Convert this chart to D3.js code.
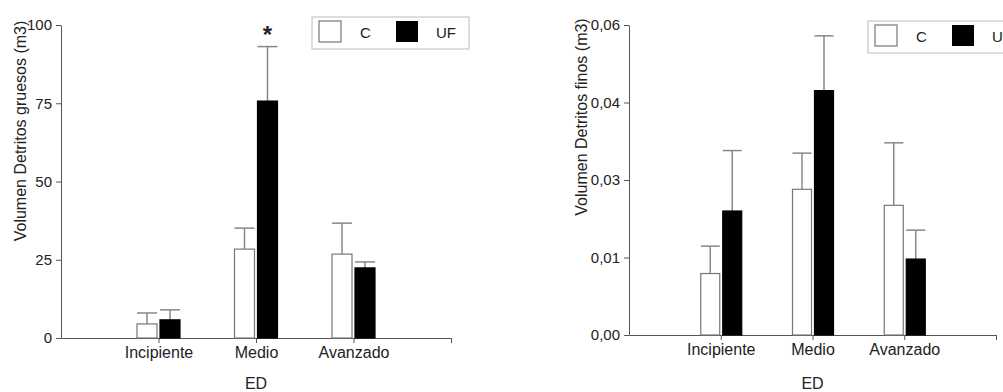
<!DOCTYPE html>
<html>
<head>
<meta charset="utf-8">
<script src="https://cdn.jsdelivr.net/npm/d3@7"></script>
<style>
  body { margin: 0; background: #fff; }
  text { font-family: "Liberation Sans", Arial, sans-serif; fill: #222; }
  .axis path, .axis line { stroke: #555; }
  .axis text { fill: #222; }
  .y-axis text { font-size: 15px; }
  .x-axis text { font-size: 16px; }
</style>
</head>
<body>
<div id="chart"></div>
<script>
var svgWidth = 1003;
var svgHeight = 392;

// categories and series
var categories = ["Incipiente", "Medio", "Avanzado"];
var seriesNames = ["C", "UF"];

// Volumen Detritos gruesos (m3): means and standard errors
var gruesosC = [4.5, 28.4, 26.8];
var gruesosCErr = [3.5, 6.7, 9.9];
var gruesosUF = [5.8, 75.7, 22.4];
var gruesosUFErr = [3.2, 17.4, 1.9];

// Volumen Detritos finos (m3): means and standard errors
var finosC = [0.0119, 0.0282, 0.0251];
var finosCErr = [0.0053, 0.0070, 0.0121];
var finosUF = [0.0240, 0.0473, 0.0147];
var finosUFErr = [0.0117, 0.0106, 0.0056];

// y tick values and labels
var gruesosTicks = [0, 25, 50, 75, 100];
var gruesosTickLabels = ["0", "25", "50", "75", "100"];
var finosTicks = [0, 0.015, 0.03, 0.045, 0.06];
var finosTickLabels = ["0,00", "0,01", "0,03", "0,04", "0,06"];

var svg = d3.select("#chart")
  .append("svg")
  .attr("width", svgWidth)
  .attr("height", svgHeight);

function drawPanel(opts) {
  var x = d3.scaleLinear()
    .domain([0, categories.length + 1])
    .range([opts.left, opts.right]);

  var y = d3.scaleLinear()
    .domain([0, d3.max(opts.ticks)])
    .range([opts.bottom, opts.top]);

  var g = svg.append("g");

  // axes
  var yAxis = d3.axisLeft(y)
    .tickValues(opts.ticks)
    .tickFormat((d, i) => opts.tickLabels[i])
    .tickSize(5)
    .tickSizeOuter(0)
    .tickPadding(4);

  g.append("g")
    .attr("class", "axis y-axis")
    .attr("transform", `translate(${opts.left}, 0)`)
    .call(yAxis);

  var xAxis = d3.axisBottom(x)
    .tickValues(d3.range(1, categories.length + 2))
    .tickFormat(d => categories[d - 1] || "")
    .tickSize(5)
    .tickSizeOuter(0)
    .tickPadding(4);

  g.append("g")
    .attr("class", "axis x-axis")
    .attr("transform", `translate(0, ${opts.bottom})`)
    .call(xAxis);

  // bars: one group per series
  var series = [
    { name: "C", values: opts.c, err: opts.cErr, fill: "#fff", offset: opts.cOffset },
    { name: "UF", values: opts.uf, err: opts.ufErr, fill: "#000", offset: opts.ufOffset }
  ];

  series.forEach(function(s) {
    var rows = s.values.map((v, i) => ({ i: i, v: v, e: s.err[i] }));
    var sg = g.append("g");

    // error bars (upper only)
    sg.selectAll(".err")
      .data(rows)
      .enter()
      .append("line")
      .attr("x1", d => x(d.i + 1) + s.offset + opts.barWidth / 2)
      .attr("x2", d => x(d.i + 1) + s.offset + opts.barWidth / 2)
      .attr("y1", d => y(d.v))
      .attr("y2", d => y(d.v + d.e))
      .attr("stroke", "#888")
      .attr("stroke-width", 1.5);

    sg.selectAll(".cap")
      .data(rows)
      .enter()
      .append("line")
      .attr("x1", d => x(d.i + 1) + s.offset)
      .attr("x2", d => x(d.i + 1) + s.offset + opts.barWidth)
      .attr("y1", d => y(d.v + d.e))
      .attr("y2", d => y(d.v + d.e))
      .attr("stroke", "#888")
      .attr("stroke-width", 1.5);

    sg.selectAll("rect")
      .data(rows)
      .enter()
      .append("rect")
      .attr("x", d => x(d.i + 1) + s.offset)
      .attr("y", d => y(d.v))
      .attr("width", opts.barWidth)
      .attr("height", d => y(0) - y(d.v))
      .attr("fill", s.fill)
      .attr("stroke", s.name === "C" ? "#777" : "#000")
      .attr("stroke-width", 1.2);
  });

  // y label
  g.append("text")
    .attr("transform", `translate(${opts.yLabelX}, ${opts.yLabelY}) rotate(-90)`)
    .attr("text-anchor", "middle")
    .style("font-size", "16px")
    .text(opts.yLabel);

  // x label
  g.append("text")
    .attr("x", x(2))
    .attr("y", 389)
    .attr("text-anchor", "middle")
    .style("font-size", "16px")
    .text("ED");

  // legend
  var lg = g.append("g")
    .attr("transform", `translate(${opts.legendX}, ${opts.legendY})`);

  lg.append("rect")
    .attr("width", 157)
    .attr("height", 32)
    .attr("fill", "#fff")
    .attr("stroke", "#bbb");

  lg.append("rect")
    .attr("x", 7).attr("y", 4)
    .attr("width", 22).attr("height", 21)
    .attr("fill", "#fff").attr("stroke", "#777").attr("stroke-width", 1.2);

  lg.append("text")
    .attr("x", 48).attr("y", 21)
    .style("font-size", "15px")
    .text(seriesNames[0]);

  lg.append("rect")
    .attr("x", 84).attr("y", 4)
    .attr("width", 22).attr("height", 21)
    .attr("fill", "#000");

  lg.append("text")
    .attr("x", 124).attr("y", 21)
    .style("font-size", "15px")
    .text(seriesNames[1]);

  return { x: x, y: y, g: g };
}

// left panel: gruesos
var left = drawPanel({
  left: 61, right: 451, top: 25, bottom: 338,
  ticks: gruesosTicks, tickLabels: gruesosTickLabels,
  c: gruesosC, cErr: gruesosCErr, uf: gruesosUF, ufErr: gruesosUFErr,
  barWidth: 20, cOffset: -21.5, ufOffset: 1.5,
  yLabel: "Volumen Detritos gruesos (m3)", yLabelX: 26, yLabelY: 131,
  legendX: 312, legendY: 17
});

// significance mark on Medio UF
left.g.append("text")
  .attr("x", left.x(2) + 1.5 + 10)
  .attr("y", left.y(gruesosUF[1] + gruesosUFErr[1]) - 4)
  .attr("text-anchor", "middle")
  .style("font-size", "24px")
  .style("font-weight", "bold")
  .text("*");

// right panel: finos
drawPanel({
  left: 629, right: 996, top: 25, bottom: 335,
  ticks: finosTicks, tickLabels: finosTickLabels,
  c: finosC, cErr: finosCErr, uf: finosUF, ufErr: finosUFErr,
  barWidth: 19, cOffset: -20, ufOffset: 2,
  yLabel: "Volumen Detritos finos (m3)", yLabelX: 587, yLabelY: 117,
  legendX: 868, legendY: 21
});
</script>
</body>
</html>
